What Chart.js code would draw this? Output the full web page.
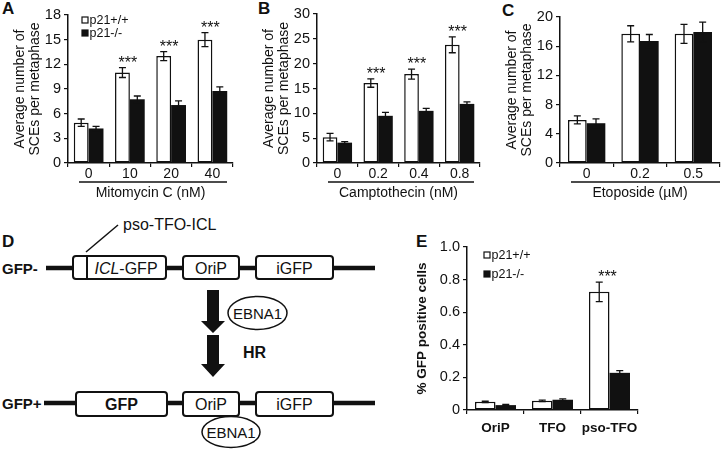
<!DOCTYPE html>
<html>
<head>
<meta charset="utf-8">
<script src="https://cdn.jsdelivr.net/npm/chart.js@4.4.1/dist/chart.umd.min.js"></script>
<style>
  body { margin: 0; background: #fff; width: 721px; height: 452px; position: relative; overflow: hidden;
         font-family: 'Liberation Sans', Arial, Helvetica, sans-serif; color: #111; }
  canvas { position: absolute; }
  .letter { position: absolute; font-weight: bold; font-size: 17px; line-height: 17px; }
  svg { position: absolute; left: 0; top: 0; }
</style>
</head>
<body>
<svg width="721" height="452" font-family="'Liberation Sans', Arial, Helvetica, sans-serif" fill="#111">
  <text x="123" y="230" font-size="16">pso-TFO-ICL</text>
  <line x1="118" y1="225" x2="86" y2="252" stroke="#111" stroke-width="1.5"/>

  <text x="2" y="273.5" font-size="15" font-weight="bold">GFP-</text>
  <line x1="46" y1="268" x2="375" y2="268" stroke="#111" stroke-width="4.5"/>
  <rect x="73" y="256" width="93" height="23" rx="3" fill="#fff" stroke="#111" stroke-width="2"/>
  <line x1="87" y1="256" x2="87" y2="279" stroke="#111" stroke-width="2"/>
  <text x="126" y="273.5" font-size="16" text-anchor="middle"><tspan font-style="italic">ICL</tspan>-GFP</text>
  <rect x="183" y="256" width="56" height="23" rx="3" fill="#fff" stroke="#111" stroke-width="2"/>
  <text x="211" y="273.5" font-size="16" text-anchor="middle">OriP</text>
  <rect x="256" y="256" width="77" height="23" rx="3" fill="#fff" stroke="#111" stroke-width="2"/>
  <text x="294.5" y="273.5" font-size="16" text-anchor="middle">iGFP</text>

  <polygon points="207,290 219,290 219,321 225,321 213,333 201,321 207,321" fill="#111"/>
  <polygon points="207,335 219,335 219,364 225,364 213,377 201,364 207,364" fill="#111"/>
  <ellipse cx="257.5" cy="313" rx="29.5" ry="16.5" fill="#fff" stroke="#111" stroke-width="1.5"/>
  <text x="257.5" y="318.5" font-size="15" text-anchor="middle">EBNA1</text>
  <text x="243" y="358" font-size="16" font-weight="bold">HR</text>

  <text x="2" y="408.5" font-size="15" font-weight="bold">GFP+</text>
  <line x1="44" y1="403" x2="375" y2="403" stroke="#111" stroke-width="4.5"/>
  <rect x="76" y="392" width="91" height="24" rx="3" fill="#fff" stroke="#111" stroke-width="2"/>
  <text x="121.5" y="409.5" font-size="16" font-weight="bold" text-anchor="middle">GFP</text>
  <rect x="183" y="392" width="56" height="24" rx="3" fill="#fff" stroke="#111" stroke-width="2"/>
  <text x="211" y="409.5" font-size="16" text-anchor="middle">OriP</text>
  <rect x="256" y="392" width="77" height="24" rx="3" fill="#fff" stroke="#111" stroke-width="2"/>
  <text x="294.5" y="409.5" font-size="16" text-anchor="middle">iGFP</text>
  <ellipse cx="231" cy="432" rx="29" ry="15.5" fill="#fff" stroke="#111" stroke-width="1.5"/>
  <text x="231" y="437.5" font-size="15" text-anchor="middle">EBNA1</text>
</svg>

<div class="letter" style="left:2px;top:0px">A</div>
<div class="letter" style="left:258px;top:0px">B</div>
<div class="letter" style="left:502px;top:2px">C</div>
<div class="letter" style="left:2px;top:233px">D</div>
<div class="letter" style="left:416px;top:233px">E</div>

<canvas id="chartA" width="240" height="202" style="left:0px;top:0px"></canvas>
<canvas id="chartB" width="232" height="202" style="left:250px;top:0px"></canvas>
<canvas id="chartC" width="226" height="202" style="left:495px;top:0px"></canvas>
<canvas id="chartE" width="240" height="217" style="left:405px;top:235px"></canvas>

<script>
// A: mitomycin C
const dosesA = ['0', '10', '20', '40'];
const wtA = [4.9, 11.0, 13.0, 15.0];
const wtErrA = [0.45, 0.6, 0.55, 0.85];
const koA = [4.2, 7.75, 7.05, 8.75];
const koErrA = [0.25, 0.4, 0.5, 0.5];
const starsA = ['', '***', '***', '***'];

// B: camptothecin
const dosesB = ['0', '0.2', '0.4', '0.8'];
const wtB = [5.2, 16.1, 17.9, 23.8];
const wtErrB = [0.75, 0.85, 1.0, 1.6];
const koB = [4.1, 9.5, 10.5, 11.9];
const koErrB = [0.2, 0.7, 0.5, 0.4];
const starsB = ['', '***', '***', '***'];

// C: etoposide
const dosesC = ['0', '0.2', '0.5'];
const wtC = [5.9, 17.7, 17.7];
const wtErrC = [0.55, 1.1, 1.3];
const koC = [5.45, 16.7, 17.95];
const koErrC = [0.6, 0.9, 1.35];
const starsC = ['', '', ''];

// E: GFP reporter
const groupsE = ['OriP', 'TFO', 'pso-TFO'];
const wtE = [0.05, 0.056, 0.725];
const wtErrE = [0.004, 0.005, 0.06];
const koE = [0.03, 0.063, 0.228];
const koErrE = [0.004, 0.005, 0.014];
const starsE = ['', '', '***'];

const seriesNames = ['p21+/+', 'p21-/-'];
const yTitleSCE = ['Average number of', 'SCEs per metaphase'];

const INK = '#111111';
const FONT = "'Liberation Sans', Arial, Helvetica, sans-serif";
Chart.defaults.font.family = FONT;
Chart.defaults.color = INK;

const extras = {
    id: 'extras',
    afterDatasetsDraw(chart, args, opts) {
        const ctx = chart.ctx;
        const y = chart.scales.y;
        const ds = chart.data.datasets;
        ctx.save();
        ctx.strokeStyle = INK;
        ctx.lineWidth = 1.3;
        // error bars
        opts.err.forEach((errs, di) => {
            const meta = chart.getDatasetMeta(di);
            meta.data.forEach((bar, i) => {
                const v = ds[di].data[i];
                const hi = y.getPixelForValue(v + errs[i]);
                const lo = y.getPixelForValue(v - errs[i]);
                ctx.beginPath();
                ctx.moveTo(bar.x, hi); ctx.lineTo(bar.x, lo);
                ctx.moveTo(bar.x - opts.cap, hi); ctx.lineTo(bar.x + opts.cap, hi);
                ctx.moveTo(bar.x - opts.cap, lo); ctx.lineTo(bar.x + opts.cap, lo);
                ctx.stroke();
            });
        });
        // significance stars over the p21+/+ bars
        const m0 = chart.getDatasetMeta(0), m1 = chart.getDatasetMeta(1);
        ctx.fillStyle = INK;
        ctx.font = '16px ' + FONT;
        ctx.textAlign = 'center';
        ctx.textBaseline = 'alphabetic';
        opts.stars.forEach((s, i) => {
            if (!s) return;
            const top = y.getPixelForValue(ds[0].data[i] + opts.err[0][i]);
            const x = (m0.data[i].x + m1.data[i].x) / 2 - 2;
            ctx.fillText(s, x, top + opts.starDy);
        });
        // legend inside plot
        if (opts.legend) {
            const L = opts.legend;
            ds.forEach((d, di) => {
                const yy = L.y + di * L.dy;
                ctx.fillStyle = d.backgroundColor;
                ctx.fillRect(L.x, yy - L.sq / 2, L.sq, L.sq);
                ctx.lineWidth = 1.2;
                ctx.strokeRect(L.x, yy - L.sq / 2, L.sq, L.sq);
                ctx.fillStyle = INK;
                ctx.font = L.size + 'px ' + FONT;
                ctx.textAlign = 'left';
                ctx.textBaseline = 'middle';
                ctx.fillText(d.label, L.x + L.sq + 1.5, yy + 0.5);
            });
        }
        // line between tick labels and axis title
        if (opts.line) {
            const a = chart.chartArea;
            ctx.lineWidth = 1.3;
            ctx.beginPath();
            ctx.moveTo(a.left + 11, opts.line.y);
            ctx.lineTo(Math.min(a.right - opts.line.inR, chart.width), opts.line.y);
            ctx.stroke();
        }
        ctx.restore();
    }
};

function makeChart(id, c) {
    return new Chart(document.getElementById(id), {
        type: 'bar',
        data: {
            labels: c.labels,
            datasets: [
                { label: seriesNames[0], data: c.wt, backgroundColor: '#ffffff', borderColor: INK,
                  borderWidth: 1.5, borderSkipped: false, categoryPercentage: c.cat, barPercentage: 1 },
                { label: seriesNames[1], data: c.ko, backgroundColor: INK, borderColor: INK,
                  borderWidth: 0, categoryPercentage: c.cat, barPercentage: 1 }
            ]
        },
        options: {
            responsive: false,
            animation: false,
            layout: { padding: { top: c.padTop, right: c.padRight, left: 0, bottom: 0 } },
            plugins: {
                legend: { display: false },
                tooltip: { enabled: false },
                extras: { err: [c.wtErr, c.koErr], stars: c.stars, cap: c.cap, starDy: 0,
                          legend: c.legend, line: c.line }
            },
            scales: {
                x: {
                    grid: { display: true, drawOnChartArea: false, tickLength: 4, color: INK, lineWidth: 1.2 },
                    border: { color: INK, width: 1.5 },
                    ticks: { padding: c.xPad, color: INK, font: c.xFont, autoSkip: false, maxRotation: 0 },
                    title: { display: !!c.xTitle, text: c.xTitle || '', color: INK,
                             font: { size: 14, lineHeight: 1.2 }, padding: 0 },
                    afterFit: s => { s.height = c.xHeight; }
                },
                y: {
                    min: 0, max: c.yMax,
                    grid: { display: true, drawOnChartArea: false, tickLength: 4, color: INK, lineWidth: 1.2 },
                    border: { color: INK, width: 1.5 },
                    ticks: { stepSize: c.yStep, padding: 3, color: INK, font: { size: 14.5 } },
                    title: { display: true, text: c.yTitle, color: INK, font: c.yTitleFont,
                             padding: { top: c.yTitlePad, bottom: 0 } },
                    afterFit: s => { s.width = c.yWidth; }
                }
            }
        },
        plugins: [extras]
    });
}

makeChart('chartA', {
    labels: dosesA, wt: wtA, wtErr: wtErrA, ko: koA, koErr: koErrA, stars: starsA,
    yMax: 18, yStep: 3, yTitle: yTitleSCE, yTitleFont: { size: 14, lineHeight: 1.07 }, yTitlePad: 12.5,
    xTitle: 'Mitomycin C (nM)', xFont: { size: 14, lineHeight: 1 }, xPad: 0,
    cat: 0.72, cap: 3.5, padTop: 15, padRight: 7, yWidth: 68, xHeight: 39,
    legend: { x: 82, y: 20, dy: 13, sq: 6, size: 12.5 }, line: { y: 182, inR: 6 }
});

makeChart('chartB', {
    labels: dosesB, wt: wtB, wtErr: wtErrB, ko: koB, koErr: koErrB, stars: starsB,
    yMax: 30, yStep: 5, yTitle: yTitleSCE, yTitleFont: { size: 14, lineHeight: 1.07 }, yTitlePad: 11.5,
    xTitle: 'Camptothecin (nM)', xFont: { size: 14, lineHeight: 1 }, xPad: 0,
    cat: 0.72, cap: 3.5, padTop: 14, padRight: 2, yWidth: 67, xHeight: 39,
    legend: null, line: { y: 182, inR: 6 }
});

makeChart('chartC', {
    labels: dosesC, wt: wtC, wtErr: wtErrC, ko: koC, koErr: koErrC, stars: starsC,
    yMax: 20, yStep: 4, yTitle: yTitleSCE, yTitleFont: { size: 14, lineHeight: 1.07 }, yTitlePad: 9.5,
    xTitle: 'Etoposide (\u00b5M)', xFont: { size: 14, lineHeight: 1 }, xPad: 0,
    cat: 0.7, cap: 3.5, padTop: 17, padRight: 1, yWidth: 65, xHeight: 39,
    legend: null, line: { y: 182, inR: 0 }
});

makeChart('chartE', {
    labels: groupsE, wt: wtE, wtErr: wtErrE, ko: koE, koErr: koErrE, stars: starsE,
    yMax: 1, yStep: 0.2, yTitle: '% GFP positive cells', yTitleFont: { size: 13.5, weight: 'bold', lineHeight: 1.15 },
    yTitlePad: 9.5,
    xTitle: null, xFont: { size: 13.5, weight: 'bold', lineHeight: 1.2 }, xPad: 6,
    cat: 0.72, cap: 3.5, padTop: 12, padRight: 7, yWidth: 62, xHeight: 42,
    legend: { x: 79, y: 20, dy: 19, sq: 6, size: 12.5 }, line: null
});
</script>
</body>
</html>
